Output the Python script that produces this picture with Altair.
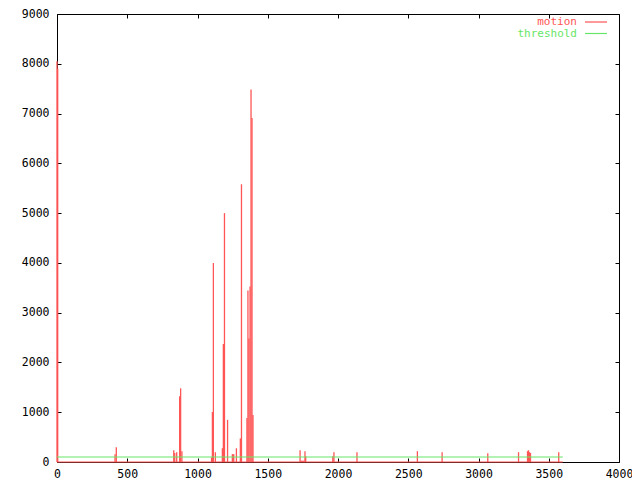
import altair as alt
import pandas as pd

# ---- data ----
frames = [0, 5, 413, 422, 831, 838, 852, 873, 880, 889,
          1100, 1106, 1113, 1127, 1177, 1184, 1192, 1214,
          1248, 1253, 1258, 1277, 1305, 1313,
          1352, 1359, 1366, 1374, 1381, 1388, 1395,
          1730, 1737, 1744, 1751, 1758, 1765, 1770,
          1963, 1971, 2135, 2565, 2741, 3066, 3285,
          3349, 3356, 3363, 3370, 3571]
motion = [8050, 7900, 157, 295, 236, 183, 197, 1320, 1480, 217,
          92, 1004, 3998, 197, 276, 2370, 5000, 847,
          157, 157, 157, 276, 473, 5580,
          886, 3446, 2481, 3525, 7484, 6913, 945,
          236, 25, 25, 25, 25, 217, 118,
          118, 197, 197, 217, 197, 177, 197,
          217, 236, 197, 183, 197]
threshold = 100
first_frame = 0
last_frame = 3600
x_ticks = [0, 500, 1000, 1500, 2000, 2500, 3000, 3500, 4000]
y_ticks = [0, 1000, 2000, 3000, 4000, 5000, 6000, 7000, 8000, 9000]
series_names = ["motion", "threshold"]

RED = "#ff5555"
GREEN = "#66e666"
FONT = "DejaVu Sans Mono"
FS = 11.5
W, H = 562, 448

spikes_df = pd.DataFrame({"frame": frames, "motion": motion})
base_df = pd.DataFrame({"start": [first_frame], "end": [last_frame], "v": [0]})
thr_df = pd.DataFrame({"start": [first_frame], "end": [last_frame], "v": [threshold]})

xs = alt.Scale(domain=[0, 4000], nice=False, zero=False)
ys = alt.Scale(domain=[0, 9000], nice=False)

lab = dict(labelFont=FONT, labelFontSize=FS, labelColor="black", grid=False,
           domain=False, title=None, format="d")
noLab = dict(labels=False, grid=False, domain=False, title=None,
             tickColor="black", tickSize=4, tickWidth=1)

spikes = alt.Chart(spikes_df).mark_rule(color=RED, strokeWidth=1.3).encode(
    x=alt.X("frame:Q", scale=xs,
            axis=alt.Axis(orient="bottom", values=x_ticks, ticks=False,
                          labelPadding=6, labelFlush=False, **lab)),
    y=alt.Y("motion:Q", scale=ys,
            axis=alt.Axis(orient="left", values=y_ticks, ticks=False,
                          labelPadding=8, **lab)),
    y2=alt.datum(0),
)

baseline = alt.Chart(base_df).mark_rule(color=RED, strokeWidth=1.2).encode(
    x=alt.X("start:Q", scale=xs,
            axis=alt.Axis(orient="top", offset=-H, values=x_ticks, **noLab)),
    x2="end:Q",
    y=alt.Y("v:Q", scale=ys,
            axis=alt.Axis(orient="right", offset=-W, values=y_ticks, **noLab)),
)

thr = alt.Chart(thr_df).mark_rule(color=GREEN, strokeWidth=1.2).encode(
    x=alt.X("start:Q", scale=xs,
            axis=alt.Axis(orient="bottom", offset=-H, values=x_ticks, **noLab)),
    x2="end:Q",
    y=alt.Y("v:Q", scale=ys,
            axis=alt.Axis(orient="left", offset=-W, values=y_ticks, **noLab)),
)

legend_layers = []
for name, col, ypos in zip(series_names, [RED, GREEN], [8, 19.5]):
    ldf = pd.DataFrame({"name": [name]})
    legend_layers.append(
        alt.Chart(ldf).mark_text(align="right", baseline="middle", font=FONT,
                                 fontSize=11, color=col).encode(
            text="name:N", x=alt.value(W - 42), y=alt.value(ypos)))
    legend_layers.append(
        alt.Chart(ldf).mark_rule(color=col, strokeWidth=1.2).encode(
            x=alt.value(W - 34), x2=alt.value(W - 12), y=alt.value(ypos)))

chart = alt.layer(spikes, baseline, thr, *legend_layers).resolve_axis(
    x="independent", y="independent"
).properties(
    width=W, height=H,
    autosize=alt.AutoSizeParams(type="none"),
    padding={"left": 49, "top": 6, "right": 13, "bottom": 18},
    background="white",
).configure_view(stroke="black", strokeWidth=1)

chart.save("out.html", embed_options={"renderer": "svg", "actions": False})
